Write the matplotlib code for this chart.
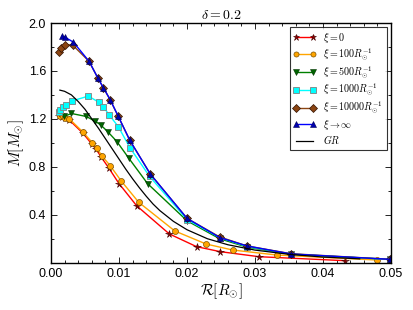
import matplotlib
matplotlib.use("Agg")
import matplotlib.pyplot as plt
from matplotlib.ticker import MultipleLocator

r0_x = [0.0012, 0.0016, 0.0021, 0.0027, 0.0047, 0.0060, 0.0066, 0.0074,
        0.0085, 0.0100, 0.0126, 0.0174, 0.0214, 0.0249, 0.0306, 0.0432]
r0_y = [1.22, 1.215, 1.205, 1.19, 1.08, 0.99, 0.95, 0.88,
        0.79, 0.66, 0.475, 0.24, 0.134, 0.092, 0.05, 0.017]

r100_x = [0.0013, 0.0017, 0.0021, 0.0027, 0.0047, 0.0061, 0.0067, 0.0075,
          0.0087, 0.0103, 0.0129, 0.0182, 0.0228, 0.0267, 0.0332, 0.0480]
r100_y = [1.22, 1.22, 1.21, 1.20, 1.09, 1.00, 0.96, 0.89,
          0.81, 0.684, 0.504, 0.265, 0.156, 0.106, 0.064, 0.022]

r500_x = [0.0012, 0.0019, 0.0030, 0.0052, 0.0065, 0.0073, 0.0084, 0.0097,
          0.0114, 0.0142, 0.0200, 0.0248, 0.0288, 0.0353, 0.0499]
r500_y = [1.25, 1.22, 1.245, 1.22, 1.18, 1.15, 1.09, 1.01,
          0.875, 0.66, 0.35, 0.20, 0.13, 0.07, 0.027]

r1000_x = [0.0012, 0.0013, 0.0017, 0.0022, 0.0031, 0.0055, 0.0070, 0.0077,
           0.0086, 0.0099, 0.0116, 0.0145, 0.0200, 0.0248, 0.0288, 0.0353,
           0.0499]
r1000_y = [1.26, 1.27, 1.30, 1.315, 1.35, 1.39, 1.34, 1.30,
           1.23, 1.135, 0.96, 0.72, 0.36, 0.21, 0.135, 0.072,
           0.027]

r10000_x = [0.0012, 0.0015, 0.0020, 0.0032, 0.0056, 0.0069, 0.0077, 0.0087,
            0.0099, 0.0116, 0.0146, 0.0200, 0.0248, 0.0288, 0.0353, 0.0499]
r10000_y = [1.76, 1.79, 1.82, 1.815, 1.68, 1.54, 1.46, 1.36,
            1.22, 1.02, 0.74, 0.37, 0.215, 0.14, 0.075, 0.028]

rinf_x = [0.0016, 0.0021, 0.0033, 0.0056, 0.0069, 0.0077, 0.0087, 0.0099,
          0.0116, 0.0146, 0.0200, 0.0248, 0.0288, 0.0353, 0.0499]
rinf_y = [1.89, 1.88, 1.84, 1.68, 1.54, 1.46, 1.36, 1.22,
          1.02, 0.74, 0.37, 0.21, 0.14, 0.073, 0.028]

gr_x = [0.0013, 0.0020, 0.0030, 0.0040, 0.0050, 0.0060, 0.0070, 0.0080,
        0.0090, 0.0100, 0.0110, 0.0120, 0.0130, 0.0140, 0.0150, 0.0160,
        0.0180, 0.0200, 0.0230, 0.0260, 0.0300, 0.0350, 0.0400, 0.0454]
gr_y = [1.44, 1.43, 1.40, 1.345, 1.28, 1.20, 1.12, 1.035,
        0.95, 0.865, 0.78, 0.70, 0.625, 0.555, 0.49, 0.435,
        0.345, 0.275, 0.20, 0.15, 0.105, 0.07, 0.047, 0.032]

labels = [r'$\xi=0$', r'$\xi=100R_{\odot}^{-1}$', r'$\xi=500R_{\odot}^{-1}$',
          r'$\xi=1000R_{\odot}^{-1}$', r'$\xi=10000R_{\odot}^{-1}$',
          r'$\xi\rightarrow\infty$', r'$GR$']

plt.rcParams['mathtext.fontset'] = 'cm'
plt.rcParams['font.family'] = ['Liberation Sans', 'DejaVu Sans']

fig = plt.figure(figsize=(4.13, 3.10), dpi=100)
ax = fig.add_axes([51 / 413, 1 - 262.7 / 310, 340 / 413, 239.7 / 310])

ms = 4.3
ax.plot(r0_x, r0_y, '-', color='red', lw=1, marker='*', ms=5.5,
        mfc='darkred', mec='#400000', mew=0.4, label=labels[0])
ax.plot(r100_x, r100_y, '-', color='orange', lw=1, marker='o', ms=ms,
        mfc='orange', mec='#7a5000', mew=0.5, label=labels[1])
ax.plot(r500_x, r500_y, '-', color='green', lw=1, marker='v', ms=ms + 0.5,
        mfc='darkgreen', mec='#003000', mew=0.4, label=labels[2])
ax.plot(r1000_x, r1000_y, '-', color='cyan', lw=1, marker='s', ms=ms,
        mfc='cyan', mec='gray', mew=0.6, label=labels[3])
ax.plot(r10000_x, r10000_y, '-', color='#8B4513', lw=1, marker='D', ms=ms,
        mfc='#8B4513', mec='#301000', mew=0.5, label=labels[4])
ax.plot(rinf_x, rinf_y, '-', color='blue', lw=1, marker='^', ms=ms + 0.5,
        mfc='#0000b0', mec='#000050', mew=0.4, label=labels[5])
ax.plot(gr_x, gr_y, '-', color='black', lw=0.9, label=labels[6])

ax.set_xlim(0, 0.05)
ax.set_ylim(0, 2.0)
ax.set_xticks([0.0, 0.01, 0.02, 0.03, 0.04, 0.05])
ax.set_yticks([0.4, 0.8, 1.2, 1.6, 2.0])
ax.xaxis.set_minor_locator(MultipleLocator(0.002))
ax.yaxis.set_minor_locator(MultipleLocator(0.2))
ax.tick_params(which='both', direction='in', top=True, right=True,
               labelsize=9, width=0.6)
ax.tick_params(which='major', length=4)
ax.tick_params(which='minor', length=2)
for s in ax.spines.values():
    s.set_linewidth(1.0)

ax.set_title(r'$\delta=0.2$', fontsize=10, pad=3)
ax.set_xlabel(r'$\mathcal{R}[R_{\odot}]$', fontsize=11, labelpad=1)
ax.set_ylabel(r'$M[M_{\odot}]$', fontsize=11, labelpad=2)

leg = ax.legend(loc='upper right', fontsize=7.2, frameon=True, fancybox=False,
                numpoints=2, markerscale=0.85, handlelength=2.3,
                borderpad=0.35, labelspacing=0.15, handletextpad=0.7,
                borderaxespad=0, bbox_to_anchor=(0.988, 0.983))
leg.get_frame().set_edgecolor('black')
leg.get_frame().set_linewidth(0.8)

fig.savefig('out.png', dpi=100)
